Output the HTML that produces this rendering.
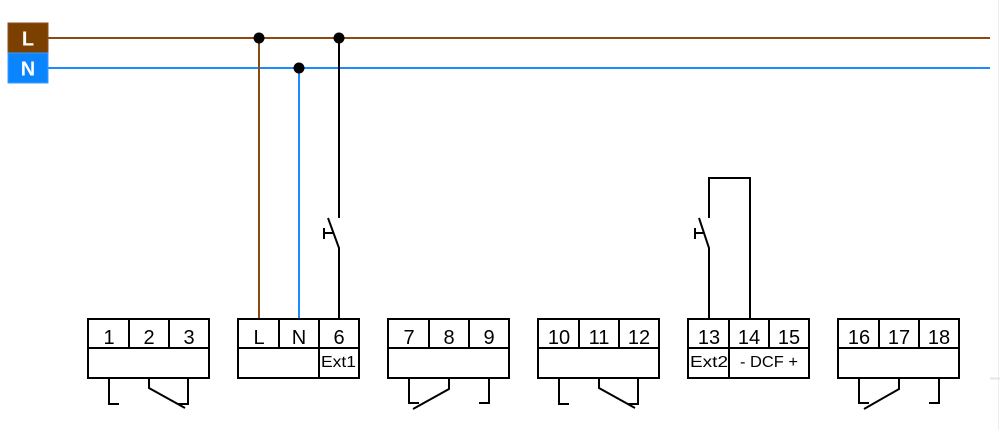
<!DOCTYPE html>
<html>
<head>
<meta charset="utf-8">
<style>
  html,body{margin:0;padding:0;background:#fff;}
  body{width:1000px;height:430px;overflow:hidden;}
  svg{display:block;}
  text{font-family:"Liberation Sans", sans-serif;fill:#000;}
</style>
</head>
<body>
<svg width="1000" height="430" viewBox="0 0 1000 430" xmlns="http://www.w3.org/2000/svg">
  <!-- faint edge lines -->
  <line x1="998.5" y1="0" x2="998.5" y2="430" stroke="#ececec" stroke-width="1"/>
  <line x1="990" y1="378.5" x2="1000" y2="378.5" stroke="#e4e4e4" stroke-width="2"/>

  <!-- bus lines -->
  <line x1="48" y1="38" x2="990" y2="38" stroke="#8B4A12" stroke-width="2"/>
  <line x1="48" y1="68" x2="990" y2="68" stroke="#1A8CFF" stroke-width="2"/>

  <!-- L / N labels -->
  <rect x="8" y="23" width="40" height="30" fill="#7B3F00" stroke="#8a5020" stroke-width="1"/>
  <rect x="8" y="53" width="40" height="30" fill="#0A84FF" stroke="#3a9cff" stroke-width="1"/>
  <text x="28" y="45.5" font-size="20" font-weight="bold" text-anchor="middle" style="fill:#fff">L</text>
  <text x="28" y="75.5" font-size="20" font-weight="bold" text-anchor="middle" style="fill:#fff">N</text>

  <!-- drops -->
  <line x1="259" y1="38" x2="259" y2="320" stroke="#8B4A12" stroke-width="2"/>
  <line x1="299" y1="68" x2="299" y2="320" stroke="#1A8CFF" stroke-width="2"/>
  <circle cx="259" cy="38" r="5.5" fill="#000"/>
  <circle cx="299" cy="68" r="5.5" fill="#000"/>
  <circle cx="339" cy="38" r="5.5" fill="#000"/>

  <!-- switch 1 -->
  <g stroke="#000" stroke-width="2" fill="none">
    <path d="M339,38 V218"/>
    <path d="M328,218 L339,248 V320"/>
    <path d="M324,228 V239 M324,233 H333"/>
  </g>

  <!-- switch 2 -->
  <g stroke="#000" stroke-width="2" fill="none">
    <path d="M709,218 V178 H750 V320"/>
    <path d="M699,218 L709,248 V320"/>
    <path d="M695,228 V239 M695,233 H704"/>
  </g>

  <!-- boxes -->
  <g stroke="#000" stroke-width="2" fill="none">
    <rect x="88" y="319" width="121" height="59"/>
    <path d="M88,348 H209 M129,319 V348 M169,319 V348"/>
    <rect x="238" y="319" width="121" height="59"/>
    <path d="M238,348 H359 M279,319 V348 M319,319 V378"/>
    <rect x="388" y="319" width="121" height="59"/>
    <path d="M388,348 H509 M429,319 V348 M469,319 V348"/>
    <rect x="538" y="319" width="121" height="59"/>
    <path d="M538,348 H659 M579,319 V348 M619,319 V348"/>
    <rect x="688" y="319" width="121" height="59"/>
    <path d="M688,348 H809 M729,319 V378 M769,319 V348"/>
    <rect x="838" y="319" width="121" height="59"/>
    <path d="M838,348 H959 M879,319 V348 M919,319 V348"/>
  </g>

  <!-- relay contacts -->
  <g stroke="#000" stroke-width="2" fill="none">
    <path d="M109,378 V404 H119"/>
    <path d="M149,378 V388 L185,408"/>
    <path d="M188,378 V404 H178"/>
    <path d="M409,378 V403 H419"/>
    <path d="M449,378 V389 L413,409"/>
    <path d="M489,378 V403 H479"/>
    <path d="M559,378 V404 H569"/>
    <path d="M599,378 V388 L635,408"/>
    <path d="M638,378 V404 H628"/>
    <path d="M859,378 V403 H869"/>
    <path d="M899,378 V389 L864,409"/>
    <path d="M939,378 V403 H929"/>
  </g>

  <!-- labels -->
  <g font-size="20" text-anchor="middle">
    <text x="109" y="344">1</text>
    <text x="149" y="344">2</text>
    <text x="189" y="344">3</text>

    <text x="259" y="344">L</text>
    <text x="299" y="344">N</text>
    <text x="339" y="344">6</text>

    <text x="409" y="344">7</text>
    <text x="449" y="344">8</text>
    <text x="489" y="344">9</text>

    <text x="559" y="344">10</text>
    <text x="599" y="344">11</text>
    <text x="639" y="344">12</text>

    <text x="709" y="344">13</text>
    <text x="749" y="344">14</text>
    <text x="789" y="344">15</text>

    <text x="859" y="344">16</text>
    <text x="899" y="344">17</text>
    <text x="939" y="344">18</text>
  </g>
  <text x="321" y="367" font-size="16" textLength="35" lengthAdjust="spacingAndGlyphs">Ext1</text>
  <text x="690" y="367" font-size="16" textLength="38" lengthAdjust="spacingAndGlyphs">Ext2</text>
  <text x="740" y="367" font-size="16" textLength="58" lengthAdjust="spacingAndGlyphs">- DCF +</text>
</svg>
</body>
</html>
